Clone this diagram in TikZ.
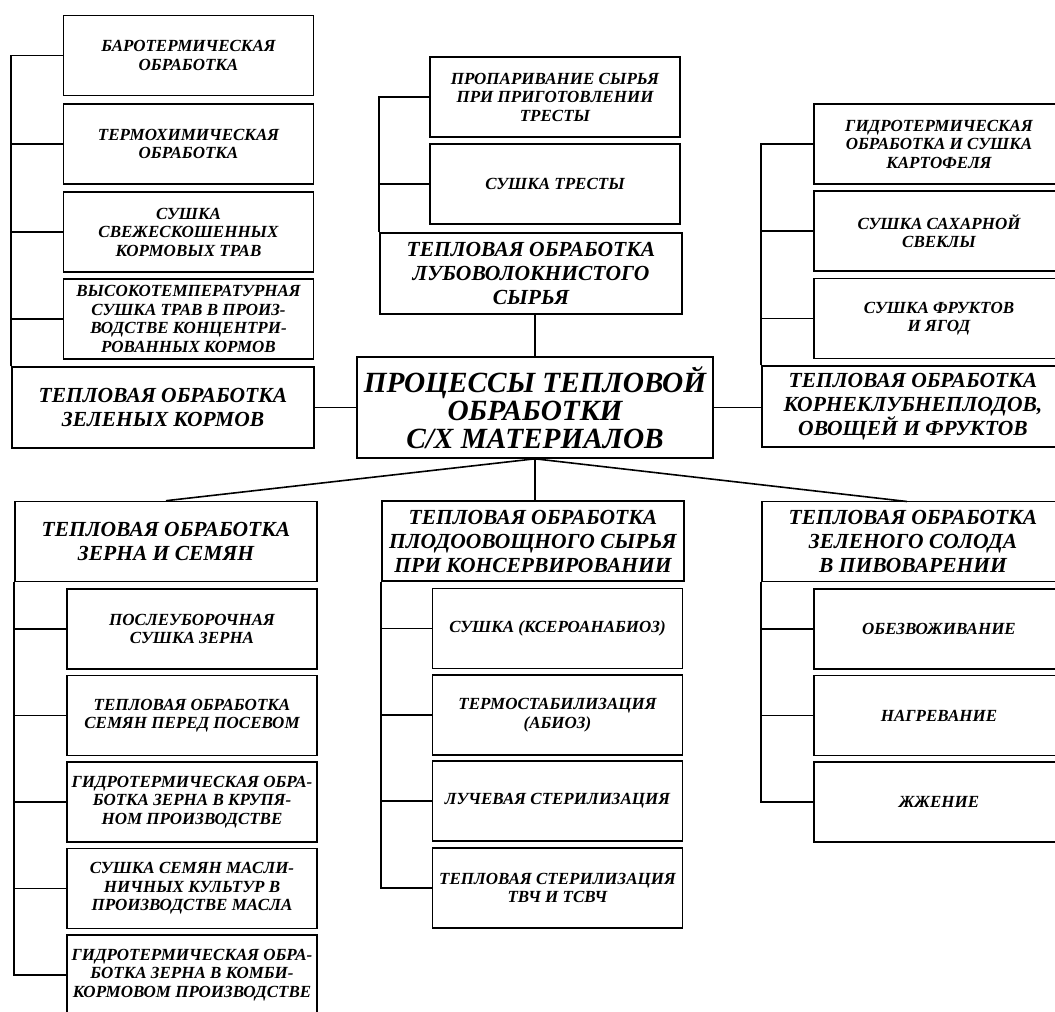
\documentclass[tikz,border=0pt]{standalone}
\usepackage{fontspec}
\setmainfont{Liberation Serif}
\usetikzlibrary{calc}

\newcommand\subtxt{\fontsize{17}{18.5}\selectfont\bfseries\itshape}
\newcommand\headtxt{\fontsize{21.5}{24}\selectfont\bfseries\itshape}
\newcommand\maintxt{\fontsize{29.3}{28}\selectfont\bfseries\itshape}

\begin{document}
\begin{tikzpicture}[x=1pt,y=-1pt,
  subbox/.style={draw,line width=1.6pt,minimum width=250pt,minimum height=80pt,inner sep=0pt,align=center,font=\subtxt},
  headbox/.style={draw,line width=1.6pt,minimum width=302pt,minimum height=81pt,inner sep=0pt,align=center,font=\headtxt},
  wire/.style={line width=1.6pt}]
  \useasboundingbox (0,0) rectangle (1055,1012);
  \clip (0,0) rectangle (1055,1012);

  %green fodder
  \node[subbox] (baro) at (188.5,55.5) {БАРОТЕРМИЧЕСКАЯ\\ОБРАБОТКА};
  \node[subbox] (chem) at (188.5,144) {ТЕРМОХИМИЧЕСКАЯ\\ОБРАБОТКА};
  \node[subbox] (fresh) at (188.5,232) {СУШКА\\СВЕЖЕСКОШЕННЫХ\\КОРМОВЫХ ТРАВ};
  \node[subbox] (hight) at (188.5,319) {ВЫСОКОТЕМПЕРАТУРНАЯ\\СУШКА ТРАВ В ПРОИЗ-\\ВОДСТВЕ КОНЦЕНТРИ-\\РОВАННЫХ КОРМОВ};
  \node[headbox] (green) at (163,407.5) {ТЕПЛОВАЯ ОБРАБОТКА\\ЗЕЛЕНЫХ КОРМОВ};

  %bast fibre
  \node[subbox] (steam) at (555,97) {ПРОПАРИВАНИЕ СЫРЬЯ\\ПРИ ПРИГОТОВЛЕНИИ\\ТРЕСТЫ};
  \node[subbox] (tresta) at (555,184) {СУШКА ТРЕСТЫ};
  \node[headbox] (bast) at (531,273.5) {ТЕПЛОВАЯ ОБРАБОТКА\\ЛУБОВОЛОКНИСТОГО\\СЫРЬЯ};

  %root crops
  \node[subbox] (potato) at (939,144) {ГИДРОТЕРМИЧЕСКАЯ\\ОБРАБОТКА И СУШКА\\КАРТОФЕЛЯ};
  \node[subbox] (beet) at (939,231) {СУШКА САХАРНОЙ\\СВЕКЛЫ};
  \node[subbox] (fruit) at (939,318.5) {СУШКА ФРУКТОВ\\И ЯГОД};
  \node[headbox] (roots) at (913,406.5) {ТЕПЛОВАЯ ОБРАБОТКА\\КОРНЕКЛУБНЕПЛОДОВ,\\ОВОЩЕЙ И ФРУКТОВ};

  %centre
  \node[draw,line width=1.6pt,minimum width=356pt,minimum height=101pt,inner sep=0pt,align=center,font=\maintxt] (proc) at (535,407.5) {ПРОЦЕССЫ ТЕПЛОВОЙ\\ОБРАБОТКИ\\С/Х МАТЕРИАЛОВ};

  %grain
  \node[headbox,minimum height=80pt] (grain) at (166,541.5) {ТЕПЛОВАЯ ОБРАБОТКА\\ЗЕРНА И СЕМЯН};
  \node[subbox] (post) at (192,629) {ПОСЛЕУБОРОЧНАЯ\\СУШКА ЗЕРНА};
  \node[subbox] (sow) at (192,715.5) {ТЕПЛОВАЯ ОБРАБОТКА\\СЕМЯН ПЕРЕД ПОСЕВОМ};
  \node[subbox] (groat) at (192,802) {ГИДРОТЕРМИЧЕСКАЯ ОБРА-\\БОТКА ЗЕРНА В КРУПЯ-\\НОМ ПРОИЗВОДСТВЕ};
  \node[subbox] (oil) at (192,888.5) {СУШКА СЕМЯН МАСЛИ-\\НИЧНЫХ КУЛЬТУР В\\ПРОИЗВОДСТВЕ МАСЛА};
  \node[subbox] (feed) at (192,975) {ГИДРОТЕРМИЧЕСКАЯ ОБРА-\\БОТКА ЗЕРНА В КОМБИ-\\КОРМОВОМ ПРОИЗВОДСТВЕ};

  %canning
  \node[headbox,minimum height=80pt] (cann) at (533,541) {ТЕПЛОВАЯ ОБРАБОТКА\\ПЛОДООВОЩНОГО СЫРЬЯ\\ПРИ КОНСЕРВИРОВАНИИ};
  \node[subbox] (xero) at (557.5,628.5) {СУШКА (КСЕРОАНАБИОЗ)};
  \node[subbox] (abio) at (557.5,715) {ТЕРМОСТАБИЛИЗАЦИЯ\\(АБИОЗ)};
  \node[subbox] (ray) at (557.5,801) {ЛУЧЕВАЯ СТЕРИЛИЗАЦИЯ};
  \node[subbox] (hf) at (557.5,888) {ТЕПЛОВАЯ СТЕРИЛИЗАЦИЯ\\ТВЧ И ТСВЧ};

  %malt
  \node[headbox,minimum height=80pt] (malt) at (913,541.5) {ТЕПЛОВАЯ ОБРАБОТКА\\ЗЕЛЕНОГО СОЛОДА\\В ПИВОВАРЕНИИ};
  \node[subbox] (dewat) at (939,629) {ОБЕЗВОЖИВАНИЕ};
  \node[subbox] (heat) at (939,715.5) {НАГРЕВАНИЕ};
  \node[subbox] (roast) at (939,802) {ЖЖЕНИЕ};
  \coordinate (maltin) at (907,501.5);

  \draw[wire] (green.north west) |- (baro.west);
  \draw[wire] (green.north west) |- (chem.west);
  \draw[wire] (green.north west) |- (fresh.west);
  \draw[wire] (green.north west) |- (hight.west);

  \draw[wire] (bast.north west) |- (steam.west);
  \draw[wire] (bast.north west) |- (tresta.west);

  \draw[wire] (roots.north west) |- (potato.west);
  \draw[wire] (roots.north west) |- (beet.west);
  \draw[wire] (roots.north west) |- (fruit.west);

  \draw[wire] (proc.west) -- (green.east);
  \draw[wire] (proc.east) -- (proc.east -| roots.west);
  \draw[wire] (proc.north) -- (proc.north |- bast.south);
  \draw[wire] (proc.south) -- (grain.north);
  \draw[wire] (proc.south) -- (proc.south |- cann.north);
  \draw[wire] (proc.south) -- (maltin);

  \draw[wire] (grain.south west) |- (post.west);
  \draw[wire] (grain.south west) |- (sow.west);
  \draw[wire] (grain.south west) |- (groat.west);
  \draw[wire] (grain.south west) |- (oil.west);
  \draw[wire] (grain.south west) |- (feed.west);

  \draw[wire] (cann.south west) |- (xero.west);
  \draw[wire] (cann.south west) |- (abio.west);
  \draw[wire] (cann.south west) |- (ray.west);
  \draw[wire] (cann.south west) |- (hf.west);

  \draw[wire] (malt.south west) |- (dewat.west);
  \draw[wire] (malt.south west) |- (heat.west);
  \draw[wire] (malt.south west) |- (roast.west);
\end{tikzpicture}
\end{document}
